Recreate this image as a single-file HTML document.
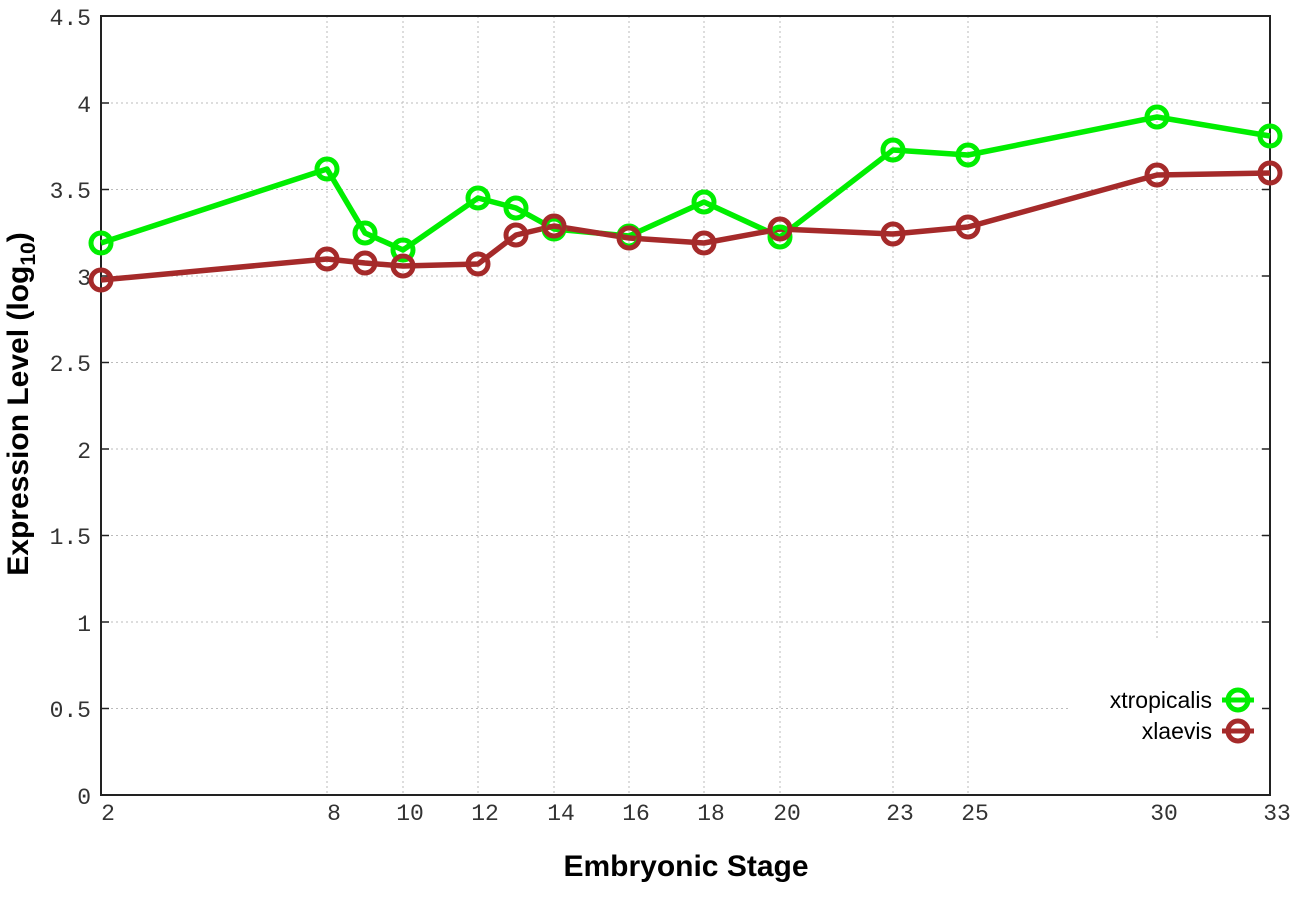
<!DOCTYPE html>
<html><head><meta charset="utf-8"><style>
html,body{margin:0;padding:0;background:#fff;}
svg{display:block;}
.t{font-family:"Liberation Mono",monospace;font-size:23px;fill:#333;}
.l{font-family:"Liberation Sans",sans-serif;font-weight:bold;font-size:30px;fill:#000;}
.g{stroke:#bbb;stroke-width:1;stroke-dasharray:2,3;}
</style></head><body>
<svg width="1296" height="907" viewBox="0 0 1296 907" xmlns="http://www.w3.org/2000/svg">
<rect width="1296" height="907" fill="#fff"/>
<g class="g">
<line x1="101" y1="103" x2="1270" y2="103"/>
<line x1="101" y1="189.5" x2="1270" y2="189.5"/>
<line x1="101" y1="276" x2="1270" y2="276"/>
<line x1="101" y1="362.5" x2="1270" y2="362.5"/>
<line x1="101" y1="449" x2="1270" y2="449"/>
<line x1="101" y1="535.5" x2="1270" y2="535.5"/>
<line x1="101" y1="622" x2="1270" y2="622"/>
<line x1="101" y1="708.5" x2="1070" y2="708.5"/>
<line x1="327" y1="16" x2="327" y2="795"/>
<line x1="403" y1="16" x2="403" y2="795"/>
<line x1="478" y1="16" x2="478" y2="795"/>
<line x1="554" y1="16" x2="554" y2="795"/>
<line x1="629" y1="16" x2="629" y2="795"/>
<line x1="704" y1="16" x2="704" y2="795"/>
<line x1="780" y1="16" x2="780" y2="795"/>
<line x1="893" y1="16" x2="893" y2="795"/>
<line x1="968" y1="16" x2="968" y2="795"/>
<line x1="1157" y1="16" x2="1157" y2="640"/>
</g>
<rect x="101" y="16" width="1169" height="779" fill="none" stroke="#222" stroke-width="2"/>
<g stroke="#222" stroke-width="1.5">
<line x1="101" y1="103" x2="109" y2="103"/><line x1="1262" y1="103" x2="1270" y2="103"/>
<line x1="101" y1="189.5" x2="109" y2="189.5"/><line x1="1262" y1="189.5" x2="1270" y2="189.5"/>
<line x1="101" y1="276" x2="109" y2="276"/><line x1="1262" y1="276" x2="1270" y2="276"/>
<line x1="101" y1="362.5" x2="109" y2="362.5"/><line x1="1262" y1="362.5" x2="1270" y2="362.5"/>
<line x1="101" y1="449" x2="109" y2="449"/><line x1="1262" y1="449" x2="1270" y2="449"/>
<line x1="101" y1="535.5" x2="109" y2="535.5"/><line x1="1262" y1="535.5" x2="1270" y2="535.5"/>
<line x1="101" y1="622" x2="109" y2="622"/><line x1="1262" y1="622" x2="1270" y2="622"/>
<line x1="101" y1="708.5" x2="109" y2="708.5"/><line x1="1262" y1="708.5" x2="1270" y2="708.5"/>
</g>
<g class="t" text-anchor="end">
<text x="91" y="25">4.5</text>
<text x="91" y="112">4</text>
<text x="91" y="198">3.5</text>
<text x="91" y="285">3</text>
<text x="91" y="371">2.5</text>
<text x="91" y="458">2</text>
<text x="91" y="544">1.5</text>
<text x="91" y="631">1</text>
<text x="91" y="717">0.5</text>
<text x="91" y="804">0</text>
</g>
<g class="t" text-anchor="middle">
<text x="108" y="820">2</text>
<text x="334" y="820">8</text>
<text x="410" y="820">10</text>
<text x="485" y="820">12</text>
<text x="561" y="820">14</text>
<text x="636" y="820">16</text>
<text x="711" y="820">18</text>
<text x="787" y="820">20</text>
<text x="900" y="820">23</text>
<text x="975" y="820">25</text>
<text x="1164" y="820">30</text>
<text x="1277" y="820">33</text>
</g>
<text class="l" x="686" y="876" text-anchor="middle">Embryonic Stage</text>
<text class="l" transform="translate(28,404) rotate(-90)" text-anchor="middle">Expression Level (log<tspan font-size="21" dy="7">10</tspan><tspan dy="-7">)</tspan></text>
<g fill="none" stroke-width="5.5" stroke-linejoin="round">
<polyline stroke="#00ee00" points="101,243 327,169 365,233 403,250 478,198 516,208 554,229 629,236 704,202 780,237 893,150 968,155 1157,117 1270,136"/>
<polyline stroke="#a52a2a" points="101,280 327,259 365,263 403,266 478,264 516,235 554,226 629,238 704,243 780,229 893,234 968,227 1157,175 1270,173"/>
</g>
<g fill="none" stroke="#00ee00" stroke-width="5">
<circle cx="101" cy="243" r="10"/><circle cx="327" cy="169" r="10"/><circle cx="365" cy="233" r="10"/><circle cx="403" cy="250" r="10"/><circle cx="478" cy="198" r="10"/><circle cx="516" cy="208" r="10"/><circle cx="554" cy="229" r="10"/><circle cx="629" cy="236" r="10"/><circle cx="704" cy="202" r="10"/><circle cx="780" cy="237" r="10"/><circle cx="893" cy="150" r="10"/><circle cx="968" cy="155" r="10"/><circle cx="1157" cy="117" r="10"/><circle cx="1270" cy="136" r="10"/>
</g>
<g fill="none" stroke="#a52a2a" stroke-width="5">
<circle cx="101" cy="280" r="10"/><circle cx="327" cy="259" r="10"/><circle cx="365" cy="263" r="10"/><circle cx="403" cy="266" r="10"/><circle cx="478" cy="264" r="10"/><circle cx="516" cy="235" r="10"/><circle cx="554" cy="226" r="10"/><circle cx="629" cy="238" r="10"/><circle cx="704" cy="243" r="10"/><circle cx="780" cy="229" r="10"/><circle cx="893" cy="234" r="10"/><circle cx="968" cy="227" r="10"/><circle cx="1157" cy="175" r="10"/><circle cx="1270" cy="173" r="10"/>
</g>
<g font-family="Liberation Sans, sans-serif" font-size="23" fill="#000" text-anchor="end">
<text x="1212" y="708">xtropicalis</text>
<text x="1212" y="739">xlaevis</text>
</g>
<g stroke-width="5" fill="none">
<line x1="1222" y1="700" x2="1254" y2="700" stroke="#00ee00"/>
<circle cx="1238" cy="700" r="10" stroke="#00ee00"/>
<line x1="1222" y1="731" x2="1254" y2="731" stroke="#a52a2a"/>
<circle cx="1238" cy="731" r="10" stroke="#a52a2a"/>
</g>
</svg>
</body></html>
